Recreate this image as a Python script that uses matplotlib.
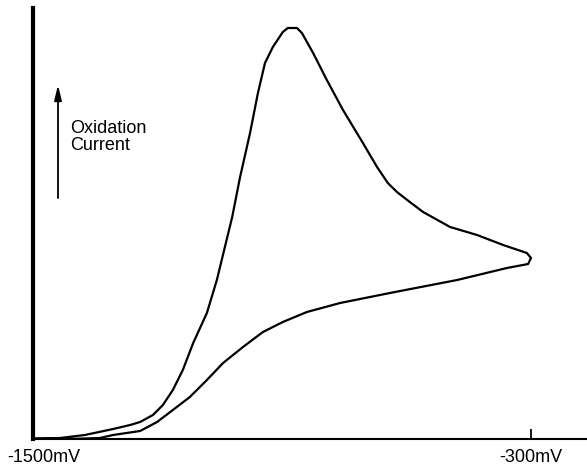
import matplotlib
matplotlib.use("Agg")
import matplotlib.pyplot as plt
from matplotlib.transforms import ScaledTranslation

plt.rcParams["font.family"] = ["Liberation Sans", "DejaVu Sans"]

# Cyclic voltammogram: forward (anodic) sweep, then the return sweep
forward_mV = [-1500, -1435, -1375, -1307, -1266, -1242, -1211, -1187, -1163,
              -1139, -1114, -1081, -1057, -1020, -1001, -977, -958, -941,
              -922, -898, -886, -864, -852, -825, -792, -753, -705, -671,
              -645, -623, -592, -560, -495, -430, -367, -310, -300]
forward_current = [0.5, 1, 4, 10, 14, 17, 24, 34, 49, 69, 96, 126, 159, 222,
                   262, 306, 346, 376, 392, 407, 411, 411, 406, 386, 359, 329,
                   296, 272, 256, 247, 237, 227, 212, 204, 194, 186, 181]

reverse_mV = [-300, -307, -358, -478, -640, -760, -840, -898, -946, -994,
              -1042, -1081, -1122, -1163, -1201, -1242, -1307, -1339, -1411,
              -1500]
reverse_current = [181, 175, 171, 159, 146, 136, 127, 117, 107, 92, 76, 59,
                   42, 29, 17, 8, 4, 1, 0, 0]

tick_values = [-1500, -300]
tick_labels = ["-1500mV", "-300mV"]

W, H = 587, 466
fig = plt.figure(figsize=(W / 100, H / 100), dpi=100)
ax = fig.add_axes([33 / W, (H - 439) / H, (W - 33) / W, (439 - 8) / H])

potential = forward_mV + reverse_mV[1:]
current = forward_current + reverse_current[1:]
ax.plot(potential, current, color="black", lw=1.6,
        solid_joinstyle="round", solid_capstyle="round")

ax.set_xlim(-1500, -1500 + (W - 33) / 498 * 1200)
ax.set_ylim(0, 431)

for side in ("top", "right"):
    ax.spines[side].set_visible(False)
ax.spines["left"].set_linewidth(3.0)
ax.spines["bottom"].set_linewidth(1.5)
ax.set_yticks([])
ax.set_xticks(tick_values)
ax.set_xticklabels(tick_labels, fontsize=13)
ax.tick_params(axis="x", direction="in", length=7, width=1.3, pad=7)

# keep the left label inside the figure
first = ax.get_xticklabels()[0]
first.set_transform(first.get_transform() +
                    ScaledTranslation(-26 / 100, 0, fig.dpi_scale_trans))
first.set_horizontalalignment("left")

# oxidation current direction arrow
ax.annotate("", xy=(58 / W, 1 - 85 / H), xytext=(58 / W, 1 - 198 / H),
            xycoords="figure fraction", textcoords="figure fraction",
            arrowprops=dict(arrowstyle="-|>,head_length=0.9,head_width=0.22",
                            color="black", lw=1.3, shrinkA=0, shrinkB=0))
fig.text(70 / W, 1 - 150 / H, "Oxidation\nCurrent", fontsize=13,
         ha="left", va="baseline", linespacing=1.0)

fig.savefig("out.png", dpi=100)
